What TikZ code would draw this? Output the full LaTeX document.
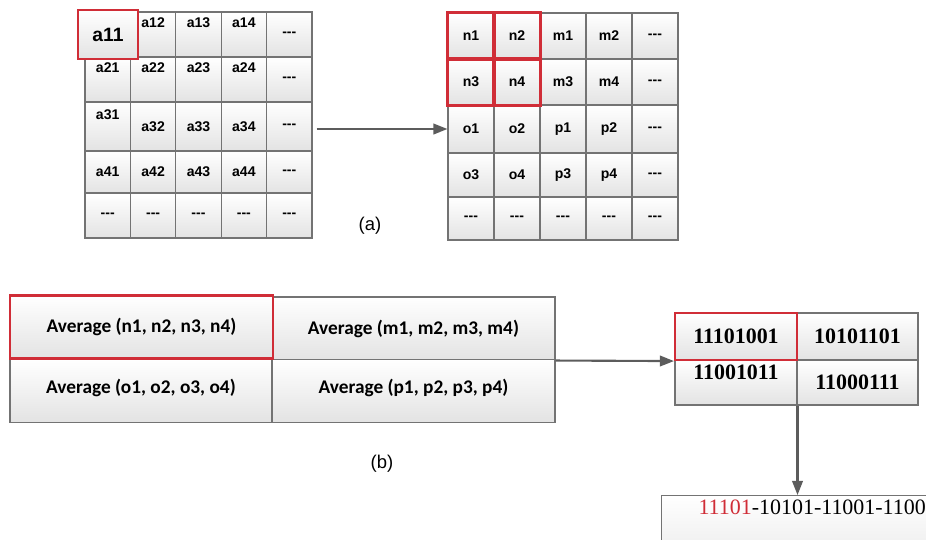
\documentclass[tikz,border=0pt]{standalone}
\usepackage{fontspec}
\setmainfont{Liberation Sans}
\newfontfamily\calfont{Carlito}
\newfontfamily\binfont{Liberation Serif}
\usetikzlibrary{arrows.meta}
\definecolor{hlred}{RGB}{208,45,55}
\definecolor{edge}{RGB}{115,115,115}
\newcommand{\dsh}{-{}-{}-}

\begin{document}
\begin{tikzpicture}[x=0.02cm, y=-0.02cm,
      cell/.style={draw=edge, line width=0.6pt, top color=white, bottom color=gray!22, inner sep=0pt, font=\bfseries\fontsize{8}{9}\selectfont},
      mid/.style={},
      up/.style={text depth=#1},
      up/.default=0.46cm,
      hl/.style={draw=hlred, line width=1.2pt},
      avg/.style={cell, font=\calfont\bfseries\fontsize{11}{13}\selectfont},
      bin/.style={cell, font=\binfont\bfseries\fontsize{12.5}{14}\selectfont},
      arr/.style={draw=edge!80!black, line width=1.2pt, -{Triangle[length=8pt,width=6pt]}},
      sublbl/.style={font=\fontsize{10.5}{12}\selectfont}
    ]
    \useasboundingbox (0,0) rectangle (926,539);
    \clip (0,0) rectangle (926,539);
    \foreach \r/\yt/\yb/\row in {1/12/57/{{}/mid,a12/up,a13/up,a14/up,\dsh/mid},
        2/57/102/{a21/up,a22/up,a23/up,a24/up,\dsh/mid},
        3/102/151/{a31/up,a32/mid,a33/mid,a34/mid,\dsh/mid},
        4/151/193/{a41/mid,a42/mid,a43/mid,a44/mid,\dsh/mid},
        5/193/238/{\dsh/mid,\dsh/mid,\dsh/mid,\dsh/mid,\dsh/mid}} {
      \foreach \txt/\sty [count=\c] in \row {
        \node[cell, \sty, minimum width=0.908cm, minimum height={(\yb-\yt)*0.02cm}] (L\r\c) at ({62.3+45.4*\c}, {(\yt+\yb)/2}) {\txt};
      }
    }
    \node[cell, hl, minimum width=1.2cm, minimum height=0.98cm, font=\bfseries\fontsize{11}{13}\selectfont] (a11) at (108,34.5) {a11};
    \foreach \r/\yt/\yb/\row in {1/13/59/{n1,n2,m1,m2,\dsh},
        2/59/105/{n3,n4,m3,m4,\dsh},
        3/105/153/{o1,o2,p1,p2,\dsh},
        4/153/197/{o3,o4,p3,p4,\dsh},
        5/197/240/{\dsh,\dsh,\dsh,\dsh,\dsh}} {
      \foreach \txt [count=\c] in \row {
        \node[cell, minimum width=0.92cm, minimum height={(\yb-\yt)*0.02cm}] (R\r\c) at ({425+46*\c}, {(\yt+\yb)/2}) {\txt};
      }
    }
    \foreach \n in {11,12,21,22} {
      \draw[hl] (R\n.north west) rectangle (R\n.south east);
    }
    \draw[arr] ([xshift=0.08cm]L35.east |- R31.west) -- (R31.west);
    \node[sublbl] (capa) at (370,226) {(a)};
    \node[avg, minimum width=5.66cm, minimum height=1.26cm] (B12) at (413.5,328.5) {Average (m1, m2, m3, m4)};
    \node[avg, up=0.2cm, minimum width=5.24cm, minimum height=1.26cm] (B21) at (141,391) {Average (o1, o2, o3, o4)};
    \node[avg, up=0.2cm, minimum width=5.66cm, minimum height=1.26cm] (B22) at (413.5,391) {Average (p1, p2, p3, p4)};
    \node[avg, hl, minimum width=5.26cm, minimum height=1.26cm] (B11) at (141.5,327) {Average (n1, n2, n3, n4)};
    \node[bin, minimum width=2.42cm, minimum height=0.94cm] (S12) at (857.5,336.5) {10101101};
    \node[bin, up=0.4cm, minimum width=2.44cm, minimum height=0.9cm] (S21) at (736,382.5) {11001011};
    \node[bin, minimum width=2.42cm, minimum height=0.9cm] (S22) at (857.5,382.5) {11000111};
    \node[bin, hl, minimum width=2.44cm, minimum height=0.94cm] (S11) at (736,336.5) {11101001};
    \draw[arr] (B12.south east) -- (S11.south west);
    \node[sublbl] (capb) at (382,464) {(b)};
    \node[cell, anchor=north west, font=\binfont\fontsize{12.5}{14}\selectfont, inner xsep=0.74cm, inner ysep=0.09cm, text depth=1.4cm] (bin) at (661,495) {\textcolor{hlred}{11101}-10101-11001-11000111};
    \draw[arr] (S21.south east) -- (S21.south east |- bin.north);
  \end{tikzpicture}
\end{document}
